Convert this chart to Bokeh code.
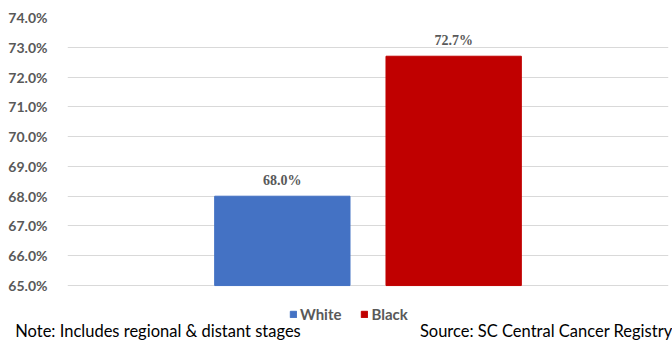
from bokeh.plotting import figure
from bokeh.models import (ColumnDataSource, Range1d, LabelSet, LinearAxis,
                          Legend, LegendItem, FixedTicker, CustomJSTickFormatter)
from bokeh.embed import file_html
from bokeh.resources import INLINE

categories = ["White", "Black"]
values = [68.0, 72.7]
colors = ["#4472C4", "#C00000"]
y_ticks = [65, 66, 67, 68, 69, 70, 71, 72, 73, 74]
note_text = "Note: Includes regional & distant stages"
source_text = "Source: SC Central Cancer Registry"

FONT = "Lato"
GRAY = "#595959"

# frame runs down to the legend row, so the legend sits inside it
FOOT_H = 22
y_lo, y_hi = y_ticks[0], y_ticks[-1]
px_per_unit = (286 - 17.5) / (y_hi - y_lo)
FRAME_BOTTOM = 343 - FOOT_H
y_start = y_lo - (FRAME_BOTTOM - 286) / px_per_unit

xi = list(range(len(categories)))
src = ColumnDataSource(dict(x=xi, cat=categories, val=values, color=colors,
                            lab=[f"{v:.1f}%" for v in values]))

p = figure(width=672, height=343, output_backend="svg", toolbar_location=None,
           x_range=Range1d(xi[0] - 1.254, xi[-1] + 1.254),
           y_range=Range1d(y_start, y_hi),
           x_axis_location=None,
           min_border_left=67, min_border_right=4, min_border_top=17, min_border_bottom=FOOT_H)
p.outline_line_color = None
p.background_fill_color = "white"
p.border_fill_color = "white"

r = p.vbar(x="x", top="val", bottom=y_lo, width=0.79, color="color", source=src)

p.xgrid.visible = False
p.ygrid.grid_line_color = "#D9D9D9"
p.ygrid.grid_line_width = 1
p.yaxis.ticker = FixedTicker(ticks=y_ticks)
p.yaxis.formatter = CustomJSTickFormatter(code="return tick.toFixed(1) + '%';")
p.yaxis.axis_line_color = None
p.yaxis.major_tick_line_color = None
p.yaxis.minor_tick_line_color = None
p.yaxis.major_label_text_font = FONT
p.yaxis.major_label_text_font_style = "bold"
p.yaxis.major_label_text_font_size = "14px"
p.yaxis.major_label_text_color = GRAY
p.yaxis.major_label_standoff = 14

labels = LabelSet(x="x", y="val", text="lab", source=src, text_align="center",
                  text_baseline="bottom", y_offset=8, text_font=FONT, text_font_style="bold",
                  text_font_size="14px", text_color=GRAY)
p.add_layout(labels)

items = [LegendItem(label=c, renderers=[r], index=i) for i, c in enumerate(categories)]
legend = Legend(items=items, orientation="horizontal", location=(222, -3),
                glyph_width=8, glyph_height=8, label_text_font=FONT,
                label_text_font_style="bold", label_text_font_size="15px",
                label_text_color=GRAY, border_line_color=None, background_fill_alpha=0,
                padding=0, spacing=19, label_standoff=3, margin=0, label_height=14)
p.add_layout(legend, "center")

# footnote row: an unlined axis in canvas-pixel units whose two tick labels are the notes
p.extra_x_ranges = {"foot": Range1d(67, 668)}
foot = LinearAxis(x_range_name="foot", ticker=FixedTicker(ticks=[157.5, 546]),
                  major_label_overrides={157.5: note_text, 546: source_text},
                  axis_line_color=None, major_tick_line_color=None, minor_tick_line_color=None,
                  major_tick_out=0, major_tick_in=0, major_label_standoff=0,
                  major_label_text_font=FONT, major_label_text_font_size="16.5px",
                  major_label_text_color="black")
p.add_layout(foot, "below")

open("out.html", "w").write(file_html(p, INLINE))
